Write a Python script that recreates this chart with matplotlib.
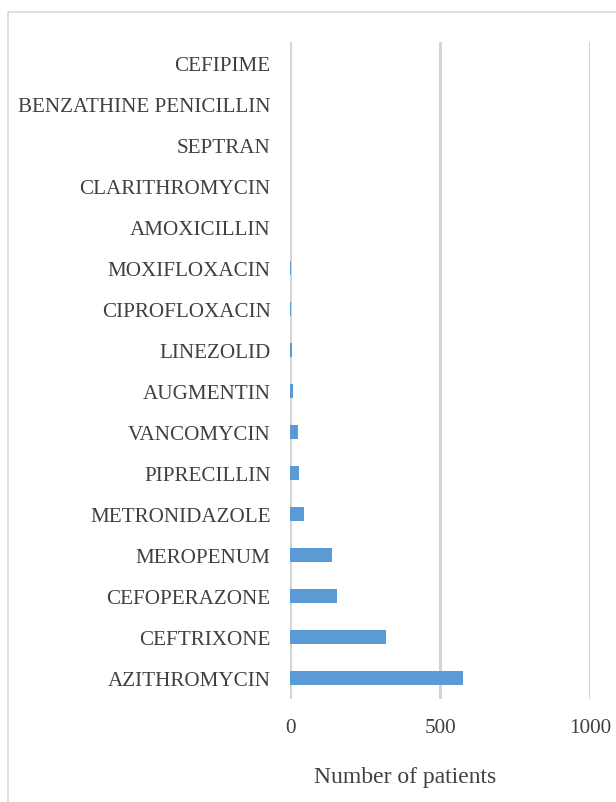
import matplotlib.pyplot as plt
from matplotlib.patches import Rectangle

# antibiotics, top to bottom as shown
drugs = ['CEFIPIME', 'BENZATHINE PENICILLIN', 'SEPTRAN', 'CLARITHROMYCIN',
         'AMOXICILLIN', 'MOXIFLOXACIN', 'CIPROFLOXACIN', 'LINEZOLID',
         'AUGMENTIN', 'VANCOMYCIN', 'PIPRECILLIN', 'METRONIDAZOLE',
         'MEROPENUM', 'CEFOPERAZONE', 'CEFTRIXONE', 'AZITHROMYCIN']
patients = [1, 1, 1, 1, 1, 3, 3, 5, 9, 28, 30, 48, 141, 155, 321, 578]
xticks = [0, 500, 1000]

plt.rcParams['font.family'] = ['Liberation Serif', 'DejaVu Serif']

fig = plt.figure(figsize=(6.16, 8.03), dpi=100)
W, H = 616, 803
ax = fig.add_axes([290 / W, 1 - 700 / H, 300 / W, 657 / H])

# outer chart border (partly cropped on right and bottom)
fig.patches.append(Rectangle((8 / W, -0.1), 1.2, 1 - 13 / H + 0.1,
                             transform=fig.transFigure, fill=False,
                             edgecolor='#D9D9D9', linewidth=1.2))

y = list(range(len(drugs)))[::-1]
ax.barh(y, patients, height=0.34, color='#5B9BD5', zorder=3)

ax.set_xlim(0, 1000)
ax.set_ylim(-0.5, len(drugs) - 0.5)
ax.set_xticks(xticks)
ax.set_xticklabels([str(t) for t in xticks])
ax.set_yticks(y)
ax.set_yticklabels(drugs)
ax.xaxis.grid(True, color='#D5D5D5', linewidth=2.2, zorder=0)
for s in ax.spines.values():
    s.set_visible(False)
ax.tick_params(axis='both', length=0, labelsize=15.2, colors='#404040')
ax.tick_params(axis='y', pad=14)
ax.tick_params(axis='x', pad=14)

fig.text(405 / W, 1 - 778 / H, 'Number of patients', ha='center', va='center',
         fontsize=17, color='#404040')

fig.savefig('out.png', dpi=100)
